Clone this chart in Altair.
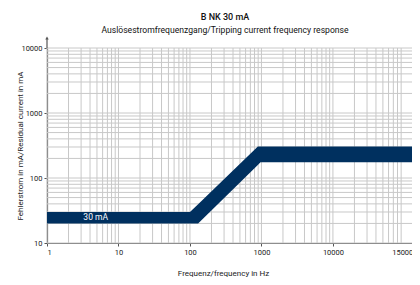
import altair as alt
import pandas as pd

# Axis tick values
freq_ticks = [1, 10, 100, 1000, 10000, 150000]
current_ticks = [10, 100, 1000, 10000]

# Minor grid positions (1..9 per decade)
freq_grid = [m * 10 ** d for d in range(0, 5) for m in range(1, 10)]
current_grid = [m * 10 ** d for d in range(1, 4) for m in range(1, 10)] + [10000]

# Tripping band (outline points)
band_freq = [1, 100, 130, 890, 970, 150000]
band_upper = [30, 30, 39.6, 305, 305, 305]
band_lower = [20, 20, 20, 159, 175, 175]

label_freq = [4.8]
label_current = [25]
label_text = ["30 mA"]

W, H = 370, 195
FONT = "Roboto"
NAVY = "#00305f"
GRID = "#c8c8c8"
AX = "#555555"

xscale = alt.Scale(type="log", domain=[1, 150000], nice=False)
yscale = alt.Scale(type="log", domain=[10, 10000], nice=False)

xaxis = alt.Axis(
    values=freq_ticks,
    grid=False,
    format="d",
    title="Frequenz/frequency in Hz",
    titleX=176,
    titleY=30,
    titleBaseline="middle",
    titleAlign="center",
)
yaxis = alt.Axis(
    values=current_ticks,
    grid=False,
    format="d",
    title="Fehlerstrom in mA/Residual current in mA",
    titleX=-27,
    titleY=97.5,
    titleAngle=270,
    titleAlign="center",
    titleBaseline="middle",
)

band_df = pd.DataFrame({"f": band_freq, "hi": band_upper, "lo": band_lower})
vgrid_df = pd.DataFrame({"f": freq_grid})
hgrid_df = pd.DataFrame({"c": current_grid})
lab_df = pd.DataFrame({"f": label_freq, "c": label_current, "t": label_text})

vgrid = alt.Chart(vgrid_df).mark_rule(color=GRID, strokeWidth=1).encode(
    x=alt.X("f:Q", scale=xscale, axis=xaxis)
)
hgrid = alt.Chart(hgrid_df).mark_rule(color=GRID, strokeWidth=1).encode(
    y=alt.Y("c:Q", scale=yscale, axis=yaxis)
)

band = alt.Chart(band_df).mark_area(color=NAVY, opacity=1, interpolate="linear").encode(
    x=alt.X("f:Q", scale=xscale, axis=xaxis),
    y=alt.Y("hi:Q", scale=yscale, axis=yaxis),
    y2="lo:Q",
)

label = alt.Chart(lab_df).mark_text(color="white", fontSize=8.5, font=FONT).encode(
    x=alt.X("f:Q", scale=xscale, axis=xaxis),
    y=alt.Y("c:Q", scale=yscale, axis=yaxis),
    text="t:N",
)

# axis arrows
yext = alt.Chart(pd.DataFrame({"a": [0]})).mark_rule(color=AX, strokeWidth=1.2).encode(
    x=alt.value(0), y=alt.value(-9), y2=alt.value(0)
)
yarrow = alt.Chart(pd.DataFrame({"a": [0]})).mark_point(
    shape="triangle-up", filled=True, color=AX, size=12, opacity=1
).encode(x=alt.value(0), y=alt.value(-10))
xarrow = alt.Chart(pd.DataFrame({"a": [0]})).mark_point(
    shape="triangle-right", filled=True, color=AX, size=12, opacity=1
).encode(x=alt.value(W + 1), y=alt.value(H))

chart = (
    alt.layer(vgrid, hgrid, band, label, yext, yarrow, xarrow)
    .properties(
        width=W,
        height=H,
        autosize=alt.AutoSizeParams(type="none"),
        padding={"left": 39, "top": 40, "right": -5, "bottom": 42},
        title=alt.Title(
            text="B NK 30 mA",
            subtitle="Auslösestromfrequenzgang/Tripping current frequency response",
            fontSize=9,
            subtitleFontSize=8.6,
            font=FONT,
            subtitleFont=FONT,
            fontWeight=500,
            color="#111111",
            subtitleColor="#111111",
            anchor="middle",
            dx=-7,
            offset=2,
            subtitlePadding=4,
        ),
    )
    .configure_view(stroke=None)
    .configure_axis(
        domainColor=AX,
        domainWidth=1.2,
        tickColor=AX,
        tickSize=3,
        labelFont=FONT,
        labelFontSize=7.5,
        labelColor="#222222",
        titleFont=FONT,
        titleFontSize=8,
        titleFontWeight="normal",
        titleColor="#222222",
    )
)

chart.save("out.html", embed_options={"renderer": "svg", "actions": False})
